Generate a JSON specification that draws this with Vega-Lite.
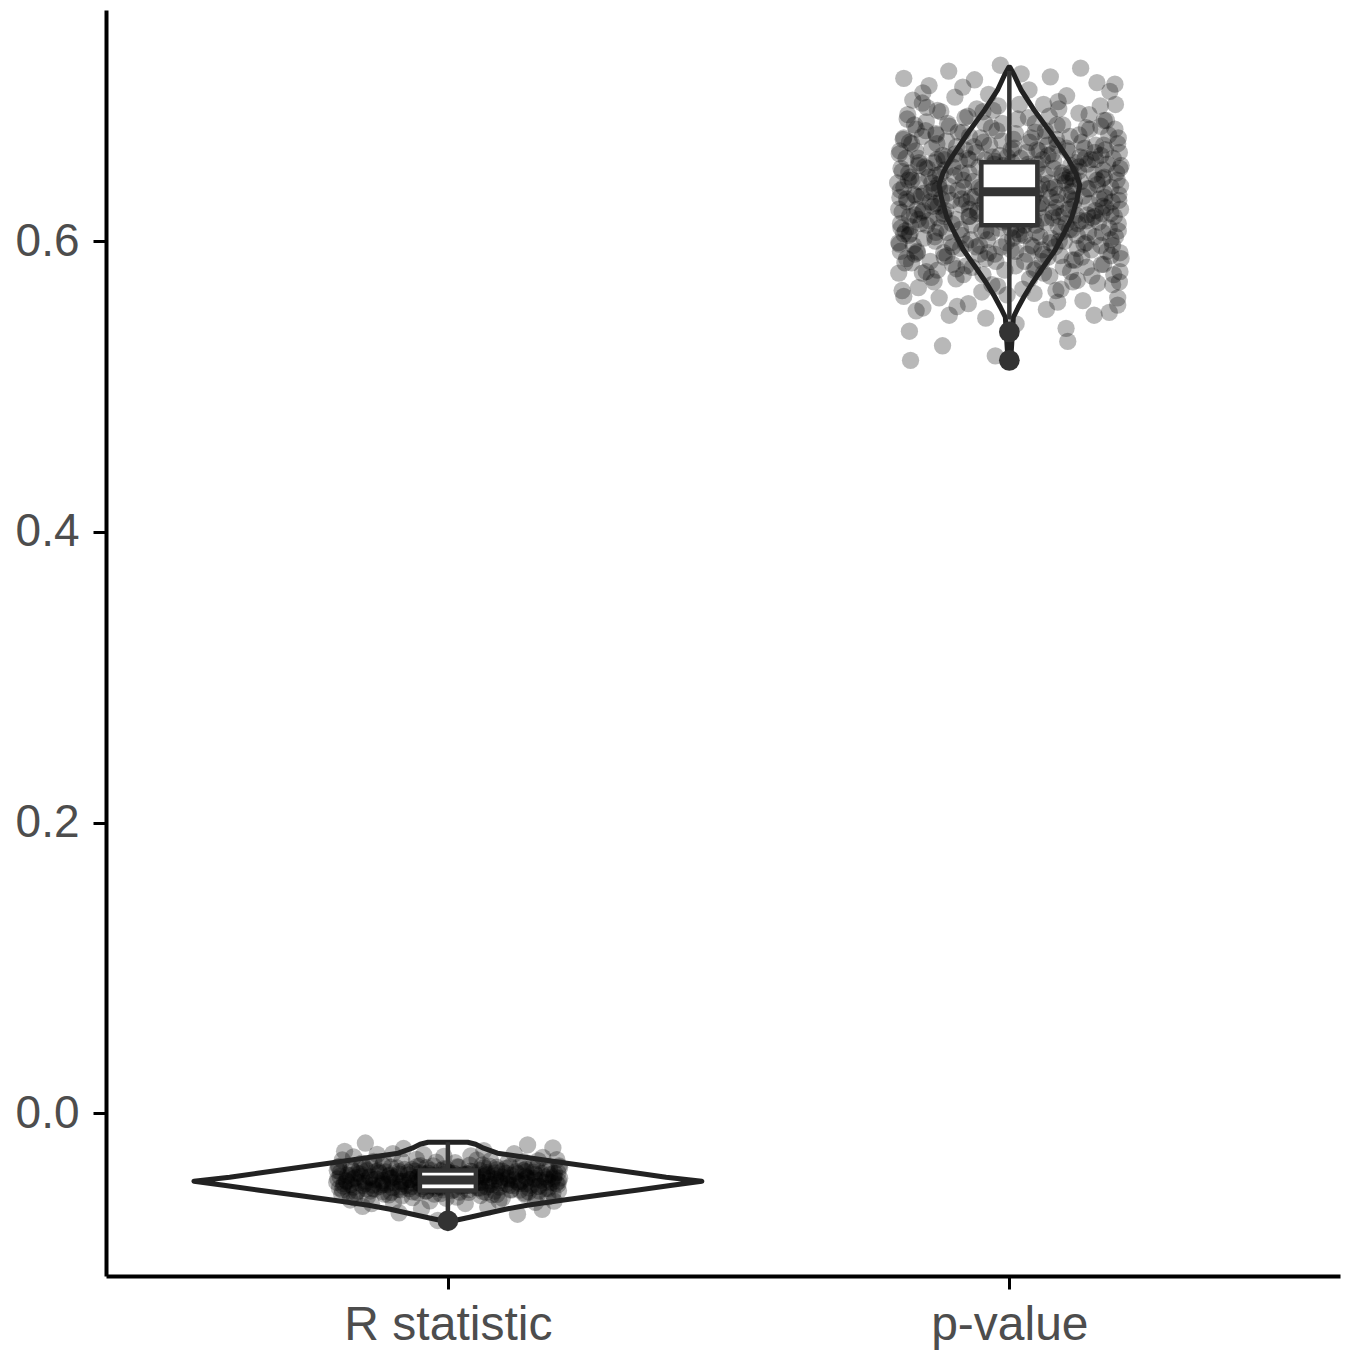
{
  "$schema": "https://vega.github.io/schema/vega-lite/v6.json",
  "width": 1234,
  "height": 1266,
  "autosize": {"type": "none"},
  "padding": {"left": 106, "top": 10, "right": 19, "bottom": 79},
  "background": "white",
  "config": {"view": {"stroke": null}},
  "datasets": {
    "pts": [
      {"x":1.824,"y":0.518},{"x":1.975,"y":0.521},
      {"x":2.104,"y":0.531},{"x":1.881,"y":0.528},
      {"x":1.822,"y":0.538},{"x":2.101,"y":0.540},{"x":2.012,"y":0.543},
      {"x":1.893,"y":0.549},{"x":2.178,"y":0.551},{"x":1.958,"y":0.547},{"x":2.066,"y":0.553},{"x":1.846,"y":0.554},
      {"x":1.834,"y":0.552},{"x":2.086,"y":0.558},{"x":2.151,"y":0.549},{"x":1.907,"y":0.555},{"x":2.193,"y":0.561},
      {"x":2.131,"y":0.559},{"x":1.812,"y":0.562},{"x":1.927,"y":0.557},{"x":2.044,"y":0.564},{"x":2.193,"y":0.556},{"x":1.875,"y":0.561},{"x":1.996,"y":0.563},
      {"x":1.838,"y":0.568},{"x":2.157,"y":0.571},{"x":1.905,"y":0.574},{"x":2.083,"y":0.566},{"x":1.969,"y":0.570},{"x":2.121,"y":0.573},{"x":1.861,"y":0.575},{"x":2.024,"y":0.567},{"x":2.196,"y":0.572},
      {"x":1.803,"y":0.578},{"x":1.934,"y":0.582},{"x":2.072,"y":0.576},{"x":2.168,"y":0.584},{"x":1.872,"y":0.580},{"x":2.011,"y":0.583},{"x":1.953,"y":0.577},{"x":2.109,"y":0.579},{"x":1.826,"y":0.585},{"x":2.047,"y":0.581},{"x":2.186,"y":0.577},{"x":1.899,"y":0.584},{"x":2.138,"y":0.582},
      {"x":1.817,"y":0.588},{"x":1.947,"y":0.591},{"x":2.058,"y":0.586},{"x":2.174,"y":0.593},{"x":1.884,"y":0.589},{"x":2.003,"y":0.594},{"x":2.117,"y":0.587},{"x":1.836,"y":0.592},{"x":1.976,"y":0.586},{"x":2.091,"y":0.590},{"x":2.199,"y":0.588},{"x":1.913,"y":0.595},{"x":2.032,"y":0.591},{"x":1.859,"y":0.586},{"x":2.146,"y":0.594},{"x":1.806,"y":0.593},{"x":2.069,"y":0.589},
      {"x":1.829,"y":0.597},{"x":1.961,"y":0.601},{"x":2.081,"y":0.596},{"x":2.189,"y":0.603},{"x":1.897,"y":0.599},{"x":2.019,"y":0.604},{"x":2.133,"y":0.598},{"x":1.848,"y":0.602},{"x":1.986,"y":0.596},{"x":2.098,"y":0.600},{"x":1.812,"y":0.605},{"x":1.922,"y":0.598},{"x":2.055,"y":0.603},{"x":2.163,"y":0.597},{"x":1.868,"y":0.600},{"x":2.006,"y":0.602},{"x":2.121,"y":0.604},{"x":1.941,"y":0.596},{"x":2.073,"y":0.599},{"x":2.181,"y":0.601},{"x":1.803,"y":0.599},{"x":2.039,"y":0.597},
      {"x":1.815,"y":0.607},{"x":1.933,"y":0.611},{"x":2.048,"y":0.606},{"x":2.159,"y":0.613},{"x":1.876,"y":0.609},{"x":1.994,"y":0.614},{"x":2.112,"y":0.608},{"x":1.842,"y":0.612},{"x":1.968,"y":0.606},{"x":2.087,"y":0.610},{"x":2.194,"y":0.607},{"x":1.905,"y":0.615},{"x":2.027,"y":0.611},{"x":2.141,"y":0.606},{"x":1.857,"y":0.614},{"x":1.981,"y":0.609},{"x":2.101,"y":0.612},{"x":1.824,"y":0.610},{"x":1.951,"y":0.607},{"x":2.065,"y":0.613},{"x":2.178,"y":0.609},{"x":1.889,"y":0.606},{"x":2.013,"y":0.608},{"x":2.128,"y":0.614},{"x":1.806,"y":0.612},{"x":2.043,"y":0.615},
      {"x":1.822,"y":0.617},{"x":1.944,"y":0.621},{"x":2.061,"y":0.616},{"x":2.172,"y":0.623},{"x":1.883,"y":0.619},{"x":2.002,"y":0.624},{"x":2.119,"y":0.618},{"x":1.836,"y":0.622},{"x":1.959,"y":0.616},{"x":2.078,"y":0.620},{"x":2.187,"y":0.617},{"x":1.914,"y":0.625},{"x":2.034,"y":0.621},{"x":2.148,"y":0.616},{"x":1.864,"y":0.624},{"x":1.988,"y":0.619},{"x":2.106,"y":0.622},{"x":1.809,"y":0.620},{"x":1.929,"y":0.617},{"x":2.052,"y":0.623},{"x":2.165,"y":0.619},{"x":1.873,"y":0.616},{"x":1.997,"y":0.618},{"x":2.114,"y":0.624},{"x":1.847,"y":0.621},{"x":1.972,"y":0.623},{"x":2.089,"y":0.617},{"x":2.198,"y":0.622},{"x":2.022,"y":0.620},
      {"x":1.818,"y":0.627},{"x":1.939,"y":0.631},{"x":2.057,"y":0.626},{"x":2.169,"y":0.633},{"x":1.879,"y":0.629},{"x":1.998,"y":0.634},{"x":2.116,"y":0.628},{"x":1.831,"y":0.632},{"x":1.954,"y":0.626},{"x":2.074,"y":0.630},{"x":2.183,"y":0.627},{"x":1.908,"y":0.635},{"x":2.029,"y":0.631},{"x":2.143,"y":0.626},{"x":1.861,"y":0.634},{"x":1.985,"y":0.629},{"x":2.103,"y":0.632},{"x":1.805,"y":0.630},{"x":1.924,"y":0.627},{"x":2.047,"y":0.633},{"x":2.161,"y":0.629},{"x":1.869,"y":0.626},{"x":1.993,"y":0.628},{"x":2.111,"y":0.634},{"x":1.843,"y":0.631},{"x":1.966,"y":0.633},{"x":2.085,"y":0.627},{"x":2.195,"y":0.632},{"x":2.017,"y":0.630},{"x":1.897,"y":0.628},{"x":2.132,"y":0.631},
      {"x":1.812,"y":0.637},{"x":1.935,"y":0.641},{"x":2.053,"y":0.636},{"x":2.166,"y":0.643},{"x":1.874,"y":0.639},{"x":1.995,"y":0.644},{"x":2.113,"y":0.638},{"x":1.827,"y":0.642},{"x":1.951,"y":0.636},{"x":2.071,"y":0.640},{"x":2.181,"y":0.637},{"x":1.902,"y":0.645},{"x":2.025,"y":0.641},{"x":2.139,"y":0.636},{"x":1.857,"y":0.644},{"x":1.981,"y":0.639},{"x":2.099,"y":0.642},{"x":1.801,"y":0.640},{"x":1.919,"y":0.637},{"x":2.043,"y":0.643},{"x":2.157,"y":0.639},{"x":1.866,"y":0.636},{"x":1.989,"y":0.638},{"x":2.107,"y":0.644},{"x":1.839,"y":0.641},{"x":1.962,"y":0.643},{"x":2.081,"y":0.637},{"x":2.192,"y":0.642},{"x":2.013,"y":0.640},{"x":1.891,"y":0.638},{"x":2.127,"y":0.641},
      {"x":1.821,"y":0.647},{"x":1.946,"y":0.651},{"x":2.063,"y":0.646},{"x":2.175,"y":0.653},{"x":1.885,"y":0.649},{"x":2.005,"y":0.654},{"x":2.123,"y":0.648},{"x":1.838,"y":0.652},{"x":1.961,"y":0.646},{"x":2.079,"y":0.650},{"x":2.191,"y":0.647},{"x":1.911,"y":0.655},{"x":2.036,"y":0.651},{"x":2.151,"y":0.646},{"x":1.866,"y":0.654},{"x":1.991,"y":0.649},{"x":2.109,"y":0.652},{"x":1.807,"y":0.650},{"x":1.928,"y":0.647},{"x":2.051,"y":0.653},{"x":2.167,"y":0.649},{"x":1.877,"y":0.646},{"x":2.001,"y":0.648},{"x":2.118,"y":0.654},{"x":1.849,"y":0.651},{"x":1.973,"y":0.653},{"x":2.093,"y":0.647},{"x":2.199,"y":0.652},
      {"x":1.816,"y":0.657},{"x":1.941,"y":0.661},{"x":2.059,"y":0.656},{"x":2.171,"y":0.663},{"x":1.881,"y":0.659},{"x":2.008,"y":0.664},{"x":2.126,"y":0.658},{"x":1.833,"y":0.662},{"x":1.957,"y":0.656},{"x":2.076,"y":0.660},{"x":2.185,"y":0.657},{"x":1.906,"y":0.665},{"x":2.031,"y":0.661},{"x":2.146,"y":0.656},{"x":1.862,"y":0.664},{"x":1.983,"y":0.659},{"x":2.104,"y":0.662},{"x":1.804,"y":0.660},{"x":1.926,"y":0.657},{"x":2.049,"y":0.663},{"x":2.163,"y":0.659},{"x":1.871,"y":0.656},{"x":1.996,"y":0.658},{"x":2.134,"y":0.664},
      {"x":1.826,"y":0.667},{"x":1.949,"y":0.671},{"x":2.068,"y":0.666},{"x":2.177,"y":0.673},{"x":1.888,"y":0.669},{"x":2.011,"y":0.674},{"x":2.129,"y":0.668},{"x":1.845,"y":0.672},{"x":1.965,"y":0.666},{"x":2.084,"y":0.670},{"x":2.193,"y":0.667},{"x":1.917,"y":0.675},{"x":2.039,"y":0.671},{"x":2.154,"y":0.666},{"x":1.869,"y":0.674},{"x":1.987,"y":0.669},{"x":2.108,"y":0.672},{"x":1.811,"y":0.670},
      {"x":1.834,"y":0.677},{"x":1.956,"y":0.681},{"x":2.064,"y":0.676},{"x":2.173,"y":0.683},{"x":1.893,"y":0.679},{"x":2.015,"y":0.684},{"x":2.137,"y":0.678},{"x":1.852,"y":0.682},{"x":1.978,"y":0.676},{"x":2.095,"y":0.680},{"x":2.188,"y":0.677},{"x":1.921,"y":0.685},{"x":2.046,"y":0.681},
      {"x":1.819,"y":0.687},{"x":1.942,"y":0.691},{"x":2.071,"y":0.686},{"x":2.162,"y":0.693},{"x":1.878,"y":0.689},{"x":2.018,"y":0.694},{"x":2.124,"y":0.688},{"x":1.853,"y":0.692},{"x":1.971,"y":0.690},
      {"x":1.828,"y":0.697},{"x":1.963,"y":0.701},{"x":2.087,"y":0.696},{"x":2.179,"y":0.703},{"x":1.903,"y":0.699},{"x":2.035,"y":0.704},
      {"x":1.846,"y":0.702},{"x":1.917,"y":0.706},{"x":2.102,"y":0.700},{"x":2.188,"y":0.708},{"x":2.021,"y":0.715},{"x":1.812,"y":0.712},{"x":2.127,"y":0.719},
      {"x":1.857,"y":0.707},{"x":1.938,"y":0.711},{"x":2.156,"y":0.709},{"x":2.073,"y":0.713},
      {"x":1.892,"y":0.717},{"x":1.984,"y":0.721},
      {"x":1.809,"y":0.566},{"x":1.866,"y":0.572},{"x":1.918,"y":0.577},{"x":1.979,"y":0.569},{"x":2.036,"y":0.574},{"x":2.092,"y":0.567},{"x":2.147,"y":0.576},{"x":2.184,"y":0.570},{"x":1.845,"y":0.578},{"x":1.951,"y":0.565},{"x":2.061,"y":0.578},{"x":2.113,"y":0.572},
      {"x":1.814,"y":0.585},{"x":1.852,"y":0.579},{"x":1.889,"y":0.590},{"x":1.923,"y":0.583},{"x":1.958,"y":0.588},{"x":1.992,"y":0.580},{"x":2.027,"y":0.586},{"x":2.061,"y":0.591},{"x":2.096,"y":0.582},{"x":2.129,"y":0.589},{"x":2.164,"y":0.584},{"x":2.197,"y":0.579},{"x":1.832,"y":0.591},{"x":1.906,"y":0.581},{"x":1.974,"y":0.591},{"x":2.044,"y":0.580},{"x":2.112,"y":0.587},{"x":2.181,"y":0.590},
      {"x":1.804,"y":0.598},{"x":1.836,"y":0.593},{"x":1.867,"y":0.603},{"x":1.899,"y":0.596},{"x":1.931,"y":0.601},{"x":1.963,"y":0.592},{"x":1.995,"y":0.599},{"x":2.027,"y":0.604},{"x":2.058,"y":0.594},{"x":2.089,"y":0.600},{"x":2.121,"y":0.595},{"x":2.153,"y":0.603},{"x":2.184,"y":0.597},{"x":1.821,"y":0.604},{"x":1.883,"y":0.592},{"x":1.947,"y":0.597},{"x":2.011,"y":0.593},{"x":2.074,"y":0.602},{"x":2.137,"y":0.599},{"x":2.197,"y":0.592},{"x":1.915,"y":0.604},{"x":2.043,"y":0.596},
      {"x":1.807,"y":0.609},{"x":1.838,"y":0.615},{"x":1.869,"y":0.606},{"x":1.898,"y":0.612},{"x":1.928,"y":0.617},{"x":1.958,"y":0.607},{"x":1.988,"y":0.613},{"x":2.017,"y":0.605},{"x":2.047,"y":0.611},{"x":2.077,"y":0.616},{"x":2.107,"y":0.608},{"x":2.137,"y":0.614},{"x":2.166,"y":0.606},{"x":2.194,"y":0.612},{"x":1.823,"y":0.605},{"x":1.853,"y":0.611},{"x":1.913,"y":0.608},{"x":1.973,"y":0.616},{"x":2.032,"y":0.614},{"x":2.092,"y":0.606},{"x":2.152,"y":0.617},{"x":1.884,"y":0.617},{"x":2.002,"y":0.609},{"x":2.122,"y":0.612},
      {"x":1.803,"y":0.622},{"x":1.831,"y":0.618},{"x":1.859,"y":0.627},{"x":1.887,"y":0.621},{"x":1.915,"y":0.629},{"x":1.943,"y":0.619},{"x":1.971,"y":0.625},{"x":1.999,"y":0.630},{"x":2.027,"y":0.620},{"x":2.055,"y":0.626},{"x":2.083,"y":0.623},{"x":2.111,"y":0.629},{"x":2.139,"y":0.618},{"x":2.167,"y":0.624},{"x":2.195,"y":0.628},{"x":1.817,"y":0.629},{"x":1.873,"y":0.624},{"x":1.929,"y":0.622},{"x":1.985,"y":0.617},{"x":2.041,"y":0.628},{"x":2.097,"y":0.619},{"x":2.153,"y":0.621},{"x":1.845,"y":0.620},{"x":1.957,"y":0.627},{"x":2.181,"y":0.619},
      {"x":1.806,"y":0.635},{"x":1.834,"y":0.631},{"x":1.862,"y":0.640},{"x":1.890,"y":0.633},{"x":1.918,"y":0.642},{"x":1.946,"y":0.637},{"x":1.974,"y":0.631},{"x":2.002,"y":0.641},{"x":2.030,"y":0.634},{"x":2.058,"y":0.639},{"x":2.086,"y":0.632},{"x":2.114,"y":0.643},{"x":2.142,"y":0.636},{"x":2.170,"y":0.630},{"x":2.198,"y":0.638},{"x":1.820,"y":0.642},{"x":1.876,"y":0.636},{"x":1.932,"y":0.630},{"x":1.988,"y":0.638},{"x":2.044,"y":0.631},{"x":2.100,"y":0.640},{"x":2.156,"y":0.642},{"x":1.848,"y":0.633},{"x":1.960,"y":0.643},{"x":2.072,"y":0.636},
      {"x":1.809,"y":0.648},{"x":1.839,"y":0.654},{"x":1.869,"y":0.645},{"x":1.899,"y":0.651},{"x":1.929,"y":0.656},{"x":1.959,"y":0.646},{"x":1.989,"y":0.652},{"x":2.019,"y":0.644},{"x":2.049,"y":0.650},{"x":2.079,"y":0.655},{"x":2.109,"y":0.647},{"x":2.139,"y":0.653},{"x":2.169,"y":0.644},{"x":2.197,"y":0.650},{"x":1.824,"y":0.644},{"x":1.854,"y":0.650},{"x":1.914,"y":0.647},{"x":1.974,"y":0.655},{"x":2.034,"y":0.653},{"x":2.094,"y":0.645},{"x":2.154,"y":0.656},{"x":1.884,"y":0.656},{"x":2.004,"y":0.648},{"x":2.124,"y":0.651},
      {"x":1.805,"y":0.662},{"x":1.838,"y":0.657},{"x":1.871,"y":0.667},{"x":1.904,"y":0.660},{"x":1.937,"y":0.665},{"x":1.970,"y":0.658},{"x":2.003,"y":0.663},{"x":2.036,"y":0.668},{"x":2.069,"y":0.659},{"x":2.102,"y":0.664},{"x":2.135,"y":0.657},{"x":2.168,"y":0.666},{"x":2.196,"y":0.661},{"x":1.822,"y":0.668},{"x":1.888,"y":0.658},{"x":1.954,"y":0.668},{"x":2.020,"y":0.657},{"x":2.086,"y":0.666},{"x":2.152,"y":0.661},{"x":1.921,"y":0.663},{"x":2.053,"y":0.662},
      {"x":1.812,"y":0.671},{"x":1.851,"y":0.676},{"x":1.890,"y":0.681},{"x":1.929,"y":0.672},{"x":1.968,"y":0.678},{"x":2.007,"y":0.670},{"x":2.046,"y":0.675},{"x":2.085,"y":0.680},{"x":2.124,"y":0.673},{"x":2.163,"y":0.679},{"x":2.194,"y":0.671},{"x":1.831,"y":0.680},{"x":1.909,"y":0.675},{"x":1.987,"y":0.681},{"x":2.065,"y":0.672},{"x":2.143,"y":0.677},{"x":1.870,"y":0.673},
      {"x":1.818,"y":0.684},{"x":1.872,"y":0.690},{"x":1.926,"y":0.686},{"x":1.980,"y":0.693},{"x":2.034,"y":0.685},{"x":2.088,"y":0.691},{"x":2.142,"y":0.687},{"x":2.189,"y":0.694},{"x":1.845,"y":0.695},{"x":1.953,"y":0.689},{"x":2.061,"y":0.694},{"x":2.169,"y":0.683},
      {"x":0.853,"y":-0.0205},{"x":1.142,"y":-0.0218},
      {"x":0.921,"y":-0.0243},{"x":1.064,"y":-0.0257},{"x":0.816,"y":-0.0262},{"x":1.187,"y":-0.0239},
      {"x":0.874,"y":-0.0284},{"x":0.993,"y":-0.0297},{"x":1.118,"y":-0.0279},{"x":0.832,"y":-0.0301},{"x":0.957,"y":-0.0286},{"x":1.041,"y":-0.0293},{"x":1.169,"y":-0.0304},{"x":0.902,"y":-0.0278},
      {"x":0.812,"y":-0.0322},{"x":0.886,"y":-0.0337},{"x":0.944,"y":-0.0318},{"x":1.013,"y":-0.0341},{"x":1.076,"y":-0.0326},{"x":1.135,"y":-0.0333},{"x":1.194,"y":-0.0319},{"x":0.847,"y":-0.0344},{"x":0.918,"y":-0.0329},{"x":0.979,"y":-0.0336},{"x":1.052,"y":-0.0321},{"x":1.107,"y":-0.0339},{"x":1.161,"y":-0.0327},{"x":0.868,"y":-0.0331},
      {"x":0.806,"y":-0.0368},{"x":0.861,"y":-0.0354},{"x":0.909,"y":-0.0377},{"x":0.951,"y":-0.0361},{"x":0.998,"y":-0.0384},{"x":1.039,"y":-0.0358},{"x":1.087,"y":-0.0372},{"x":1.128,"y":-0.0365},{"x":1.176,"y":-0.0381},{"x":0.827,"y":-0.0375},{"x":0.884,"y":-0.0359},{"x":0.936,"y":-0.0386},{"x":0.974,"y":-0.0363},{"x":1.019,"y":-0.0371},{"x":1.062,"y":-0.0355},{"x":1.103,"y":-0.0379},{"x":1.151,"y":-0.0367},{"x":1.198,"y":-0.0362},{"x":0.843,"y":-0.0383},{"x":0.962,"y":-0.0374},{"x":1.074,"y":-0.0364},{"x":1.139,"y":-0.0385},
      {"x":0.803,"y":-0.0393},{"x":0.838,"y":-0.0412},{"x":0.872,"y":-0.0401},{"x":0.897,"y":-0.0425},{"x":0.929,"y":-0.0407},{"x":0.958,"y":-0.0419},{"x":0.987,"y":-0.0396},{"x":1.011,"y":-0.0414},{"x":1.044,"y":-0.0403},{"x":1.069,"y":-0.0422},{"x":1.097,"y":-0.0398},{"x":1.124,"y":-0.0416},{"x":1.153,"y":-0.0405},{"x":1.181,"y":-0.0423},{"x":1.196,"y":-0.0409},{"x":0.821,"y":-0.0427},{"x":0.856,"y":-0.0395},{"x":0.913,"y":-0.0418},{"x":0.941,"y":-0.0399},{"x":0.971,"y":-0.0426},{"x":1.002,"y":-0.0408},{"x":1.028,"y":-0.0421},{"x":1.057,"y":-0.0394},{"x":1.084,"y":-0.0411},{"x":1.112,"y":-0.0427},{"x":1.139,"y":-0.0402},{"x":1.167,"y":-0.0415},{"x":0.889,"y":-0.0404},{"x":0.952,"y":-0.0411},{"x":1.036,"y":-0.0417},
      {"x":0.808,"y":-0.0435},{"x":0.832,"y":-0.0451},{"x":0.861,"y":-0.0442},{"x":0.884,"y":-0.0464},{"x":0.906,"y":-0.0438},{"x":0.933,"y":-0.0457},{"x":0.955,"y":-0.0444},{"x":0.979,"y":-0.0461},{"x":1.004,"y":-0.0433},{"x":1.027,"y":-0.0455},{"x":1.051,"y":-0.0447},{"x":1.073,"y":-0.0466},{"x":1.096,"y":-0.0439},{"x":1.118,"y":-0.0458},{"x":1.142,"y":-0.0445},{"x":1.165,"y":-0.0462},{"x":1.189,"y":-0.0436},{"x":0.819,"y":-0.0463},{"x":0.846,"y":-0.0437},{"x":0.873,"y":-0.0454},{"x":0.897,"y":-0.0448},{"x":0.921,"y":-0.0467},{"x":0.946,"y":-0.0441},{"x":0.968,"y":-0.0452},{"x":0.992,"y":-0.0465},{"x":1.015,"y":-0.0443},{"x":1.039,"y":-0.0459},{"x":1.062,"y":-0.0434},{"x":1.085,"y":-0.0453},{"x":1.107,"y":-0.0446},{"x":1.131,"y":-0.0468},{"x":1.154,"y":-0.0449},{"x":1.177,"y":-0.0456},{"x":1.199,"y":-0.0447},
      {"x":0.802,"y":-0.0475},{"x":0.827,"y":-0.0491},{"x":0.853,"y":-0.0483},{"x":0.879,"y":-0.0504},{"x":0.902,"y":-0.0478},{"x":0.926,"y":-0.0497},{"x":0.951,"y":-0.0486},{"x":0.974,"y":-0.0502},{"x":0.998,"y":-0.0473},{"x":1.022,"y":-0.0494},{"x":1.046,"y":-0.0488},{"x":1.069,"y":-0.0506},{"x":1.092,"y":-0.0479},{"x":1.115,"y":-0.0498},{"x":1.138,"y":-0.0485},{"x":1.162,"y":-0.0503},{"x":1.185,"y":-0.0476},{"x":0.814,"y":-0.0502},{"x":0.841,"y":-0.0477},{"x":0.867,"y":-0.0495},{"x":0.891,"y":-0.0489},{"x":0.915,"y":-0.0507},{"x":0.939,"y":-0.0481},{"x":0.962,"y":-0.0493},{"x":0.986,"y":-0.0505},{"x":1.009,"y":-0.0484},{"x":1.033,"y":-0.0499},{"x":1.057,"y":-0.0474},{"x":1.081,"y":-0.0492},{"x":1.104,"y":-0.0487},{"x":1.149,"y":-0.0496},{"x":1.193,"y":-0.0482},
      {"x":0.807,"y":-0.0516},{"x":0.839,"y":-0.0534},{"x":0.869,"y":-0.0522},{"x":0.899,"y":-0.0545},{"x":0.931,"y":-0.0519},{"x":0.961,"y":-0.0538},{"x":0.991,"y":-0.0527},{"x":1.021,"y":-0.0543},{"x":1.053,"y":-0.0514},{"x":1.083,"y":-0.0536},{"x":1.113,"y":-0.0524},{"x":1.144,"y":-0.0541},{"x":1.174,"y":-0.0518},{"x":1.197,"y":-0.0532},{"x":0.823,"y":-0.0541},{"x":0.855,"y":-0.0521},{"x":0.884,"y":-0.0539},{"x":0.916,"y":-0.0528},{"x":0.946,"y":-0.0546},{"x":0.977,"y":-0.0517},{"x":1.007,"y":-0.0533},{"x":1.037,"y":-0.0525},{"x":1.068,"y":-0.0544},{"x":1.128,"y":-0.0529},
      {"x":0.811,"y":-0.0559},{"x":0.857,"y":-0.0573},{"x":0.895,"y":-0.0562},{"x":0.937,"y":-0.0581},{"x":0.976,"y":-0.0556},{"x":1.016,"y":-0.0577},{"x":1.058,"y":-0.0566},{"x":1.097,"y":-0.0584},{"x":1.137,"y":-0.0558},{"x":1.178,"y":-0.0575},{"x":0.834,"y":-0.0582},{"x":0.918,"y":-0.0569},{"x":0.997,"y":-0.0585},{"x":1.079,"y":-0.0561},{"x":1.158,"y":-0.0579},
      {"x":0.826,"y":-0.0597},{"x":0.903,"y":-0.0612},{"x":0.968,"y":-0.0603},{"x":1.031,"y":-0.0621},{"x":1.091,"y":-0.0599},{"x":1.156,"y":-0.0614},{"x":0.864,"y":-0.0622},{"x":1.189,"y":-0.0605},
      {"x":0.848,"y":-0.0641},{"x":0.953,"y":-0.0657},{"x":1.071,"y":-0.0646},{"x":1.168,"y":-0.0661},
      {"x":0.913,"y":-0.0685},{"x":1.124,"y":-0.0695},
      {"x":0.982,"y":-0.0738},
      {"x":0.805,"y":-0.0369},{"x":0.829,"y":-0.0391},{"x":0.852,"y":-0.0378},{"x":0.876,"y":-0.0397},{"x":0.899,"y":-0.0372},{"x":0.923,"y":-0.0386},{"x":0.946,"y":-0.0366},{"x":0.970,"y":-0.0394},{"x":0.993,"y":-0.0381},{"x":1.017,"y":-0.0368},{"x":1.040,"y":-0.0399},{"x":1.064,"y":-0.0375},{"x":1.087,"y":-0.0389},{"x":1.111,"y":-0.0367},{"x":1.134,"y":-0.0393},{"x":1.158,"y":-0.0379},{"x":1.181,"y":-0.0384},{"x":1.199,"y":-0.0371},
      {"x":0.809,"y":-0.0405},{"x":0.826,"y":-0.0428},{"x":0.843,"y":-0.0416},{"x":0.861,"y":-0.0437},{"x":0.878,"y":-0.0411},{"x":0.895,"y":-0.0432},{"x":0.913,"y":-0.0402},{"x":0.930,"y":-0.0424},{"x":0.947,"y":-0.0439},{"x":0.965,"y":-0.0413},{"x":0.982,"y":-0.0431},{"x":0.999,"y":-0.0406},{"x":1.017,"y":-0.0426},{"x":1.034,"y":-0.0418},{"x":1.051,"y":-0.0436},{"x":1.069,"y":-0.0409},{"x":1.086,"y":-0.0429},{"x":1.103,"y":-0.0414},{"x":1.121,"y":-0.0403},{"x":1.138,"y":-0.0433},{"x":1.155,"y":-0.0421},{"x":1.173,"y":-0.0438},{"x":1.190,"y":-0.0412},{"x":1.062,"y":-0.0425},
      {"x":0.804,"y":-0.0452},{"x":0.820,"y":-0.0471},{"x":0.836,"y":-0.0443},{"x":0.852,"y":-0.0466},{"x":0.868,"y":-0.0458},{"x":0.884,"y":-0.0478},{"x":0.900,"y":-0.0447},{"x":0.916,"y":-0.0469},{"x":0.932,"y":-0.0455},{"x":0.948,"y":-0.0474},{"x":0.964,"y":-0.0441},{"x":0.980,"y":-0.0462},{"x":0.996,"y":-0.0479},{"x":1.012,"y":-0.0449},{"x":1.028,"y":-0.0468},{"x":1.044,"y":-0.0457},{"x":1.060,"y":-0.0476},{"x":1.076,"y":-0.0444},{"x":1.092,"y":-0.0465},{"x":1.108,"y":-0.0453},{"x":1.124,"y":-0.0472},{"x":1.140,"y":-0.0446},{"x":1.156,"y":-0.0461},{"x":1.172,"y":-0.0477},{"x":1.188,"y":-0.0450},{"x":1.197,"y":-0.0467},
      {"x":0.815,"y":-0.0485},{"x":0.832,"y":-0.0508},{"x":0.849,"y":-0.0496},{"x":0.867,"y":-0.0517},{"x":0.884,"y":-0.0491},{"x":0.901,"y":-0.0512},{"x":0.919,"y":-0.0482},{"x":0.936,"y":-0.0504},{"x":0.953,"y":-0.0519},{"x":0.971,"y":-0.0493},{"x":0.988,"y":-0.0511},{"x":1.005,"y":-0.0486},{"x":1.023,"y":-0.0506},{"x":1.040,"y":-0.0498},{"x":1.057,"y":-0.0516},{"x":1.075,"y":-0.0489},{"x":1.092,"y":-0.0509},{"x":1.109,"y":-0.0494},{"x":1.127,"y":-0.0483},{"x":1.144,"y":-0.0513},{"x":1.161,"y":-0.0501},{"x":1.179,"y":-0.0518},{"x":1.196,"y":-0.0492},{"x":0.958,"y":-0.0505},
      {"x":0.812,"y":-0.0528},{"x":0.837,"y":-0.0547},{"x":0.862,"y":-0.0535},{"x":0.887,"y":-0.0556},{"x":0.912,"y":-0.0523},{"x":0.937,"y":-0.0541},{"x":0.962,"y":-0.0532},{"x":0.987,"y":-0.0553},{"x":1.012,"y":-0.0526},{"x":1.037,"y":-0.0544},{"x":1.062,"y":-0.0537},{"x":1.087,"y":-0.0558},{"x":1.112,"y":-0.0529},{"x":1.137,"y":-0.0549},{"x":1.162,"y":-0.0534},{"x":1.187,"y":-0.0551}
    ],
    "violin": [
      {"g":"R statistic","v":-0.01995,"lo":0.9647,"hi":1.0353},
      {"g":"R statistic","v":-0.02133,"lo":0.9505,"hi":1.0495},
      {"g":"R statistic","v":-0.02408,"lo":0.9364,"hi":1.0636},
      {"g":"R statistic","v":-0.02752,"lo":0.9117,"hi":1.0883},
      {"g":"R statistic","v":-0.03096,"lo":0.8498,"hi":1.1502},
      {"g":"R statistic","v":-0.03440,"lo":0.7880,"hi":1.2120},
      {"g":"R statistic","v":-0.03784,"lo":0.7244,"hi":1.2756},
      {"g":"R statistic","v":-0.04128,"lo":0.6608,"hi":1.3392},
      {"g":"R statistic","v":-0.04403,"lo":0.6113,"hi":1.3887},
      {"g":"R statistic","v":-0.04678,"lo":0.5477,"hi":1.4523},
      {"g":"R statistic","v":-0.04954,"lo":0.6007,"hi":1.3993},
      {"g":"R statistic","v":-0.05298,"lo":0.6643,"hi":1.3357},
      {"g":"R statistic","v":-0.05642,"lo":0.7314,"hi":1.2686},
      {"g":"R statistic","v":-0.05986,"lo":0.7968,"hi":1.2032},
      {"g":"R statistic","v":-0.06330,"lo":0.8587,"hi":1.1413},
      {"g":"R statistic","v":-0.06605,"lo":0.8975,"hi":1.1025},
      {"g":"R statistic","v":-0.06880,"lo":0.9293,"hi":1.0707},
      {"g":"R statistic","v":-0.07155,"lo":0.9611,"hi":1.0389},
      {"g":"R statistic","v":-0.07362,"lo":0.9859,"hi":1.0141},
      {"g":"p-value","v":0.7196,"lo":1.999,"hi":2.001},
      {"g":"p-value","v":0.7141,"lo":1.9912,"hi":2.0088},
      {"g":"p-value","v":0.7038,"lo":1.9788,"hi":2.0212},
      {"g":"p-value","v":0.6901,"lo":1.9558,"hi":2.0442},
      {"g":"p-value","v":0.6742,"lo":1.9258,"hi":2.0742},
      {"g":"p-value","v":0.6557,"lo":1.8940,"hi":2.1060},
      {"g":"p-value","v":0.6467,"lo":1.8816,"hi":2.1184},
      {"g":"p-value","v":0.6385,"lo":1.8746,"hi":2.1254},
      {"g":"p-value","v":0.6281,"lo":1.8799,"hi":2.1201},
      {"g":"p-value","v":0.6164,"lo":1.8887,"hi":2.1113},
      {"g":"p-value","v":0.6054,"lo":1.9028,"hi":2.0972},
      {"g":"p-value","v":0.5937,"lo":1.9187,"hi":2.0813},
      {"g":"p-value","v":0.5820,"lo":1.9399,"hi":2.0601},
      {"g":"p-value","v":0.5710,"lo":1.9594,"hi":2.0406},
      {"g":"p-value","v":0.5621,"lo":1.9735,"hi":2.0265},
      {"g":"p-value","v":0.5545,"lo":1.9841,"hi":2.0159},
      {"g":"p-value","v":0.5476,"lo":1.9929,"hi":2.0071},
      {"g":"p-value","v":0.5353,"lo":1.9947,"hi":2.0053},
      {"g":"p-value","v":0.5249,"lo":1.9965,"hi":2.0035},
      {"g":"p-value","v":0.5174,"lo":1.999,"hi":2.001}
    ],
    "box": [
      {"g":"R statistic","pos":1,"wlo":-0.069,"q1":-0.0531,"med":-0.0460,"q3":-0.0394,"whi":-0.0200},
      {"g":"p-value","pos":2,"wlo":0.546,"q1":0.6109,"med":0.6339,"q3":0.6543,"whi":0.717}
    ],
    "out": [
      {"g":"R statistic","pos":1,"v":-0.0740},
      {"g":"p-value","pos":2,"v":0.5375},
      {"g":"p-value","pos":2,"v":0.5180}
    ]
  },
  "layer": [
    {
      "data": {"name": "pts"},
      "mark": {"type": "circle", "size": 300, "color": "black", "opacity": 0.28, "strokeWidth": 0},
      "encoding": {
        "x": {"field": "x", "type": "quantitative", "scale": {"domain": [0.4, 2.58], "nice": false, "zero": false},
          "axis": {"title": null, "values": [1, 2], "labelExpr": "datum.value == 1 ? 'R statistic' : 'p-value'",
            "grid": false, "domainColor": "black", "domainWidth": 4, "tickColor": "black", "tickWidth": 3, "tickSize": 13,
            "labelFont": "Liberation Sans", "labelFontSize": 48, "labelColor": "#4d4d4d", "labelPadding": 12, "labelLimit": 0}},
        "y": {"field": "y", "type": "quantitative", "scale": {"domain": [-0.112, 0.759], "nice": false, "zero": false},
          "axis": {"title": null, "values": [0, 0.2, 0.4, 0.6], "format": ".1f",
            "grid": false, "domainColor": "black", "domainWidth": 4, "tickColor": "black", "tickWidth": 3, "tickSize": 13,
            "labelFont": "Liberation Sans", "labelFontSize": 46, "labelColor": "#4d4d4d", "labelPadding": 14}}
      }
    },
    {
      "data": {"name": "violin"},
      "mark": {"type": "area", "orient": "horizontal", "interpolate": "linear", "fill": "white", "fillOpacity": 0, "stroke": "#222222", "strokeWidth": 5, "strokeJoin": "round"},
      "encoding": {
        "y": {"field": "v", "type": "quantitative", "sort": null},
        "x": {"field": "lo", "type": "quantitative"},
        "x2": {"field": "hi"},
        "detail": {"field": "g"}
      }
    },
    {
      "data": {"name": "box"},
      "mark": {"type": "rule", "color": "#333333", "strokeWidth": 4.5},
      "encoding": {
        "x": {"field": "pos", "type": "quantitative"},
        "y": {"field": "wlo", "type": "quantitative"},
        "y2": {"field": "whi"}
      }
    },
    {
      "data": {"name": "box"},
      "mark": {"type": "bar", "orient": "vertical", "width": 56, "fill": "white", "stroke": "#333333", "strokeWidth": 4.5},
      "encoding": {
        "x": {"field": "pos", "type": "quantitative"},
        "y": {"field": "q1", "type": "quantitative"},
        "y2": {"field": "q3"}
      }
    },
    {
      "data": {"name": "box"},
      "mark": {"type": "tick", "orient": "horizontal", "size": 60, "thickness": 9, "color": "#333333", "opacity": 1},
      "encoding": {
        "x": {"field": "pos", "type": "quantitative"},
        "y": {"field": "med", "type": "quantitative"}
      }
    },
    {
      "data": {"name": "out"},
      "mark": {"type": "circle", "size": 430, "color": "#333333", "opacity": 1},
      "encoding": {
        "x": {"field": "pos", "type": "quantitative"},
        "y": {"field": "v", "type": "quantitative"}
      }
    }
  ]
}
